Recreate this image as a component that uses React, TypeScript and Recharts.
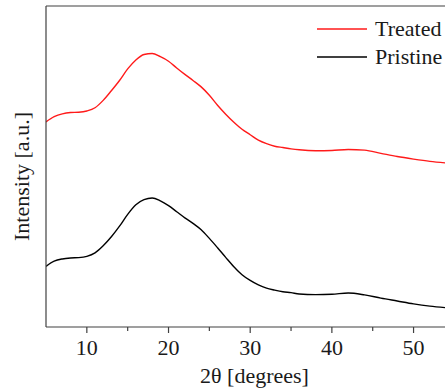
import { LineChart, Line, XAxis, YAxis, ReferenceLine } from "recharts";

// 2θ positions (degrees) sampled along both patterns
const angles = [
  5, 6, 7, 8, 9, 10, 11, 12, 13, 14, 15, 16, 17, 18, 19, 20, 21, 22, 23, 24, 25, 26, 27,
  28, 29, 30, 31, 32, 33, 34, 35, 36, 38, 40, 42, 44, 46, 48, 50, 52, 54,
];

// intensity, arbitrary units (0-1000 full scale)
const treated = [
  639, 655, 664, 668, 669, 673, 683, 706, 736, 768, 804, 832, 849, 852, 842, 828, 807,
  787, 768, 748, 722, 691, 663, 638, 616, 599, 582, 571, 563, 559, 555, 552, 549, 550,
  553, 551, 541, 531, 523, 516, 511,
];
const pristine = [
  189, 205, 212, 215, 216, 220, 231, 253, 281, 314, 351, 381, 397, 402, 393, 378, 359,
  340, 323, 303, 276, 247, 217, 188, 163, 145, 131, 121, 115, 110, 107, 103, 101, 102,
  106, 100, 90, 81, 72, 65, 60,
];

const majorTicks = [10, 20, 30, 40, 50];
const minorTicks = [15, 25, 35, 45];

const data = angles.map((a, i) => ({ angle: a, treated: treated[i], pristine: pristine[i] }));

const FONT = '"Liberation Serif", "Times New Roman", serif';
const AXIS = "#404040";
const TEXT = "#1a1a1a";
const RED = "#ff1a1a";
const BLACK = "#000000";

const legendRows = [
  { name: "Treated", color: RED },
  { name: "Pristine", color: BLACK },
];

function AngleTick({ x, y, payload }: { x?: number; y?: number; payload?: { value: number } }) {
  const v = payload?.value ?? 0;
  const major = majorTicks.includes(v);
  return (
    <g>
      <line x1={x} x2={x} y1={y} y2={(y ?? 0) + (major ? 6 : 4)} stroke={AXIS} strokeWidth={1.2} />
      {major && (
        <text x={x} y={(y ?? 0) + 28} textAnchor="middle" fontFamily={FONT} fontSize={22} fill={TEXT}>
          {v}
        </text>
      )}
    </g>
  );
}

export default function App() {
  return (
    <div style={{ position: "absolute", left: 0, top: 0, width: 445, height: 389, overflow: "hidden", background: "#fff" }}>
      <LineChart width={445} height={389} data={data} margin={{ top: 6, right: 0, left: 0, bottom: 0 }}>
        <XAxis
          dataKey="angle"
          type="number"
          domain={[5, 53.85]}
          allowDataOverflow
          ticks={[...majorTicks, ...minorTicks].sort((a, b) => a - b)}
          interval={0}
          tickSize={0}
          tickMargin={0}
          tickLine={false}
          tick={<AngleTick />}
          height={62}
          axisLine={{ stroke: AXIS, strokeWidth: 1.2 }}
          label={{ value: "2θ [degrees]", position: "insideBottom", offset: 6, dx: 9, fontFamily: FONT, fontSize: 22, fill: TEXT }}
        />
        <YAxis
          type="number"
          domain={[0, 1000]}
          allowDataOverflow
          width={46}
          tick={false}
          tickLine={false}
          axisLine={{ stroke: AXIS, strokeWidth: 1.2 }}
          label={{
            content: ({ viewBox }: any) => (
              <text
                transform={`translate(${viewBox.x + 29}, ${viewBox.y + viewBox.height / 2 + 10}) rotate(-90)`}
                textAnchor="middle"
                fontFamily={FONT}
                fontSize={22}
                fill={TEXT}
              >
                Intensity [a.u.]
              </text>
            ),
          }}
        />
        <ReferenceLine y={1000} stroke={AXIS} strokeWidth={1.2} />
        <Line
          type="monotone"
          dataKey="treated"
          name="Treated"
          stroke={RED}
          strokeWidth={1.4}
          dot={false}
          isAnimationActive={false}
        />
        <Line
          type="monotone"
          dataKey="pristine"
          name="Pristine"
          stroke={BLACK}
          strokeWidth={1.4}
          dot={false}
          isAnimationActive={false}
        />
      </LineChart>
      <div style={{ position: "absolute", top: 15, left: 317 }}>
        {legendRows.map((r) => (
          <div key={r.name} style={{ display: "flex", alignItems: "center", height: 28 }}>
            <svg width={50} height={4} style={{ display: "block" }}>
              <line x1={0} x2={50} y1={2} y2={2} stroke={r.color} strokeWidth={1.3} />
            </svg>
            <span style={{ marginLeft: 8, fontFamily: FONT, fontSize: 22, color: TEXT, lineHeight: "28px" }}>
              {r.name}
            </span>
          </div>
        ))}
      </div>
    </div>
  );
}
